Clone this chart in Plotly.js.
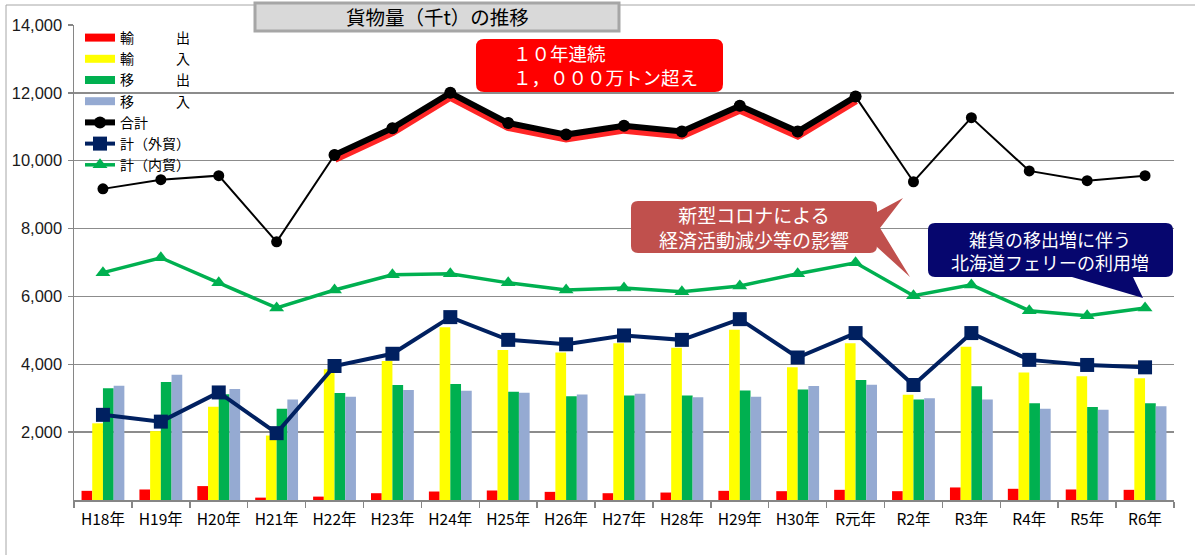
<!DOCTYPE html>
<html>
<head>
<meta charset="utf-8">
<script src="https://cdn.plot.ly/plotly-3.0.1.min.js"></script>
<style>
  html, body { margin: 0; padding: 0; background: #ffffff; }
  #chart { width: 1195px; height: 555px; }
</style>
</head>
<body>
<div id="chart"></div>
<script>
// ---------- data (千t) ----------
const categories = ['H18年','H19年','H20年','H21年','H22年','H23年','H24年','H25年','H26年','H27年','H28年','H29年','H30年','R元年','R2年','R3年','R4年','R5年','R6年'];
const exportIntl = [270, 310, 410, 70, 100, 200, 250, 280, 240, 200, 220, 270, 260, 300, 260, 370, 330, 310, 300];          // 輸出
const importIntl = [2260, 2030, 2750, 1900, 3850, 4100, 5090, 4420, 4350, 4620, 4490, 5020, 3910, 4620, 3100, 4520, 3760, 3650, 3590]; // 輸入
const exportDom  = [3290, 3480, 3120, 2690, 3150, 3390, 3420, 3190, 3060, 3080, 3080, 3230, 3260, 3540, 2960, 3350, 2850, 2740, 2850]; // 移出
const importDom  = [3370, 3690, 3270, 2960, 3040, 3240, 3220, 3160, 3110, 3130, 3030, 3040, 3360, 3400, 3000, 2960, 2690, 2660, 2760]; // 移入
const total      = [9170, 9440, 9560, 7610, 10170, 10960, 12000, 11110, 10770, 11030, 10860, 11620, 10860, 11890, 9380, 11270, 9700, 9410, 9560]; // 合計
const totalIntl  = [2510, 2310, 3170, 1970, 3950, 4310, 5390, 4720, 4590, 4850, 4720, 5330, 4200, 4920, 3390, 4920, 4130, 3980, 3910]; // 計(外貿)
const totalDom   = [6700, 7140, 6400, 5660, 6190, 6640, 6670, 6400, 6190, 6250, 6140, 6310, 6670, 6990, 6020, 6340, 5580, 5430, 5660]; // 計(内貿)
const streakFirst = 'H22年', streakLast = 'R元年'; // 10年連続 1,000万トン超え
const yTicks = [2000, 4000, 6000, 8000, 10000, 12000, 14000];
const yTickText = ['2,000', '4,000', '6,000', '8,000', '10,000', '12,000', '14,000'];
const seriesNames = ['輸　　　出', '輸　　　入', '移　　　出', '移　　　入', '合計', '計（外貿）', '計（内貿）'];

// ---------- styling ----------
const C = { red: '#FF0000', yellow: '#FFFF00', green: '#00B050', blue: '#95AAD2', black: '#000000', navy: '#002060' };
const JP = "'Noto Sans CJK JP', 'Noto Sans', sans-serif";

const i0 = categories.indexOf(streakFirst), i1 = categories.indexOf(streakLast);
const streak = total.map((v, i) => (i >= i0 && i <= i1) ? v : null);

const M = { l: 74, r: 21, t: 25, b: 55 };
const W = 1195, H = 555;
const PW = W - M.l - M.r, PH = H - M.t - M.b;
const px = x => (x - M.l) / PW;
const py = y => (H - M.b - y) / PH;
const P = (x, y) => px(x).toFixed(5) + ',' + py(y).toFixed(5);
function roundRect(x0, y0, x1, y1, r, extra) {
  let d = 'M' + P(x0 + r, y0) + ' L' + P(x1 - r, y0) + ' Q' + P(x1, y0) + ' ' + P(x1, y0 + r);
  if (extra && extra.right) extra.right.forEach(p => { d += ' L' + P(p[0], p[1]); });
  d += ' L' + P(x1, y1 - r) + ' Q' + P(x1, y1) + ' ' + P(x1 - r, y1);
  if (extra && extra.bottom) extra.bottom.forEach(p => { d += ' L' + P(p[0], p[1]); });
  d += ' L' + P(x0 + r, y1) + ' Q' + P(x0, y1) + ' ' + P(x0, y1 - r) +
       ' L' + P(x0, y0 + r) + ' Q' + P(x0, y0) + ' ' + P(x0 + r, y0) + ' Z';
  return d;
}

const barColors = [C.red, C.yellow, C.green, C.blue];
const barData = [exportIntl, importIntl, exportDom, importDom];

const traces = [];
// red glow under the 10-year streak (on hidden, slightly shifted base axis)
traces.push({ type: 'scatter', mode: 'lines', x: categories, y: streak, yaxis: 'y', xaxis: 'x',
  line: { color: 'rgba(255,0,0,0.85)', width: 9 }, showlegend: false, hoverinfo: 'skip', connectgaps: false });
// bars
barData.forEach((d, k) => traces.push({ type: 'bar', x: categories, y: d, yaxis: 'y2', name: seriesNames[k],
  marker: { color: barColors[k], line: { width: 0 } }, showlegend: false, legendgroup: 'g' + k }));
// legend proxies for bars (Excel-like thick line glyph)
barData.forEach((d, k) => traces.push({ type: 'scatter', mode: 'lines', x: categories, y: d.map(() => null), yaxis: 'y2',
  name: seriesNames[k], line: { color: barColors[k], width: 8 }, legendgroup: 'g' + k, hoverinfo: 'skip' }));
// total lines
traces.push({ type: 'scatter', mode: 'lines+markers', x: categories, y: total, yaxis: 'y2', name: seriesNames[4],
  line: { color: C.black, width: 2 }, marker: { symbol: 'circle', size: 11, color: C.black }, showlegend: false, legendgroup: 'tot' });
traces.push({ type: 'scatter', mode: 'lines+markers', x: categories, y: streak, yaxis: 'y2', name: seriesNames[4],
  line: { color: C.black, width: 6 }, marker: { symbol: 'circle', size: 12, color: C.black }, legendgroup: 'tot', connectgaps: false });
traces.push({ type: 'scatter', mode: 'lines+markers', x: categories, y: totalIntl, yaxis: 'y2', name: seriesNames[5],
  line: { color: C.navy, width: 4 }, marker: { symbol: 'square', size: 14, color: C.navy } });
traces.push({ type: 'scatter', mode: 'lines+markers', x: categories, y: totalDom, yaxis: 'y2', name: seriesNames[6],
  line: { color: C.green, width: 3.5 }, marker: { symbol: 'triangle-up', size: 13, color: C.green } });

const shapes = [
  { type: 'rect', xref: 'paper', yref: 'paper', x0: px(6), y0: py(5), x1: px(1300), y1: py(700), line: { color: '#A6A6A6', width: 1 }, fillcolor: 'rgba(0,0,0,0)', layer: 'below' },
  { type: 'rect', xref: 'paper', yref: 'paper', x0: px(255), y0: py(3), x1: px(619), y1: py(31), line: { color: '#A6A6A6', width: 3 }, fillcolor: '#D9D9D9', layer: 'above' },
  { type: 'path', xref: 'paper', yref: 'paper', path: roundRect(476, 39, 723, 92, 8), fillcolor: '#FF0000', line: { width: 0 }, layer: 'above' },
  { type: 'path', xref: 'paper', yref: 'paper', path: roundRect(631, 201, 877, 253, 7, { right: [[877, 212], [903, 198], [880, 228], [910, 277], [877, 247]] }), fillcolor: '#C0504D', line: { width: 0 }, layer: 'above' },
  { type: 'path', xref: 'paper', yref: 'paper', path: roundRect(928, 223, 1173, 277, 7, { bottom: [[1133, 277], [1143, 298], [1072, 277]] }), fillcolor: '#06066E', line: { width: 0 }, layer: 'above' }
];

const annotations = [
  { xref: 'paper', yref: 'paper', x: px(437), y: py(17), text: '貨物量（千t）の推移', showarrow: false,
    font: { family: JP, size: 19.5, color: '#000' }, xanchor: 'center', yanchor: 'middle' },
  { xref: 'paper', yref: 'paper', x: px(511), y: py(65), text: '１０年連続<br>１，０００万トン超え', showarrow: false, align: 'left',
    font: { family: JP, size: 18.5, color: '#FFFFFF' }, xanchor: 'left', yanchor: 'middle' },
  { xref: 'paper', yref: 'paper', x: px(754), y: py(227), text: '新型コロナによる<br>経済活動減少等の影響', showarrow: false, align: 'center',
    font: { family: JP, size: 19, color: '#FFFFFF' }, xanchor: 'center', yanchor: 'middle' },
  { xref: 'paper', yref: 'paper', x: px(1050), y: py(250), text: '雑貨の移出増に伴う<br>北海道フェリーの利用増', showarrow: false, align: 'center',
    font: { family: JP, size: 18, color: '#FFFFFF' }, xanchor: 'center', yanchor: 'middle' }
];

const layout = {
  width: W, height: H,
  margin: M,
  paper_bgcolor: '#FFFFFF', plot_bgcolor: '#FFFFFF',
  font: { family: JP, color: '#000' },
  barmode: 'group', bargap: 0.26, bargroupgap: 0,
  showlegend: true,
  legend: { x: px(80), y: py(22), xanchor: 'left', yanchor: 'top', bgcolor: 'rgba(0,0,0,0)',
    font: { family: JP, size: 14, color: '#000' }, tracegroupgap: 0, itemwidth: 30, traceorder: 'normal' },
  xaxis: { type: 'category', categoryorder: 'array', categoryarray: categories, range: [-0.5, categories.length - 0.5], autorange: false,
    showline: true, linecolor: '#868686', linewidth: 1.5, ticks: 'outside', tickson: 'boundaries', ticklen: 6,
    tickcolor: '#868686', tickwidth: 1.5, showgrid: false, ticklabelstandoff: 5,
    tickfont: { family: JP, size: 15.5, color: '#000' }, fixedrange: true },
  yaxis: { range: [100, 14100], visible: false, showgrid: false, fixedrange: true },
  yaxis2: { overlaying: 'y', side: 'left', anchor: 'x', range: [0, 14000], tickvals: yTicks, ticktext: yTickText,
    showgrid: true, gridcolor: '#8C8C8C', gridwidth: 1.5, showline: true, linecolor: '#868686', linewidth: 1.5,
    ticks: 'outside', ticklen: 5, tickcolor: '#868686', tickwidth: 1.5, zeroline: false, ticklabelstandoff: 2,
    tickfont: { family: "'Liberation Sans', Arial, sans-serif", size: 16.5, color: '#1a1a1a' }, fixedrange: true },
  shapes: shapes,
  annotations: annotations
};

Plotly.newPlot('chart', traces, layout, { displayModeBar: false, staticPlot: true });
</script>
</body>
</html>
